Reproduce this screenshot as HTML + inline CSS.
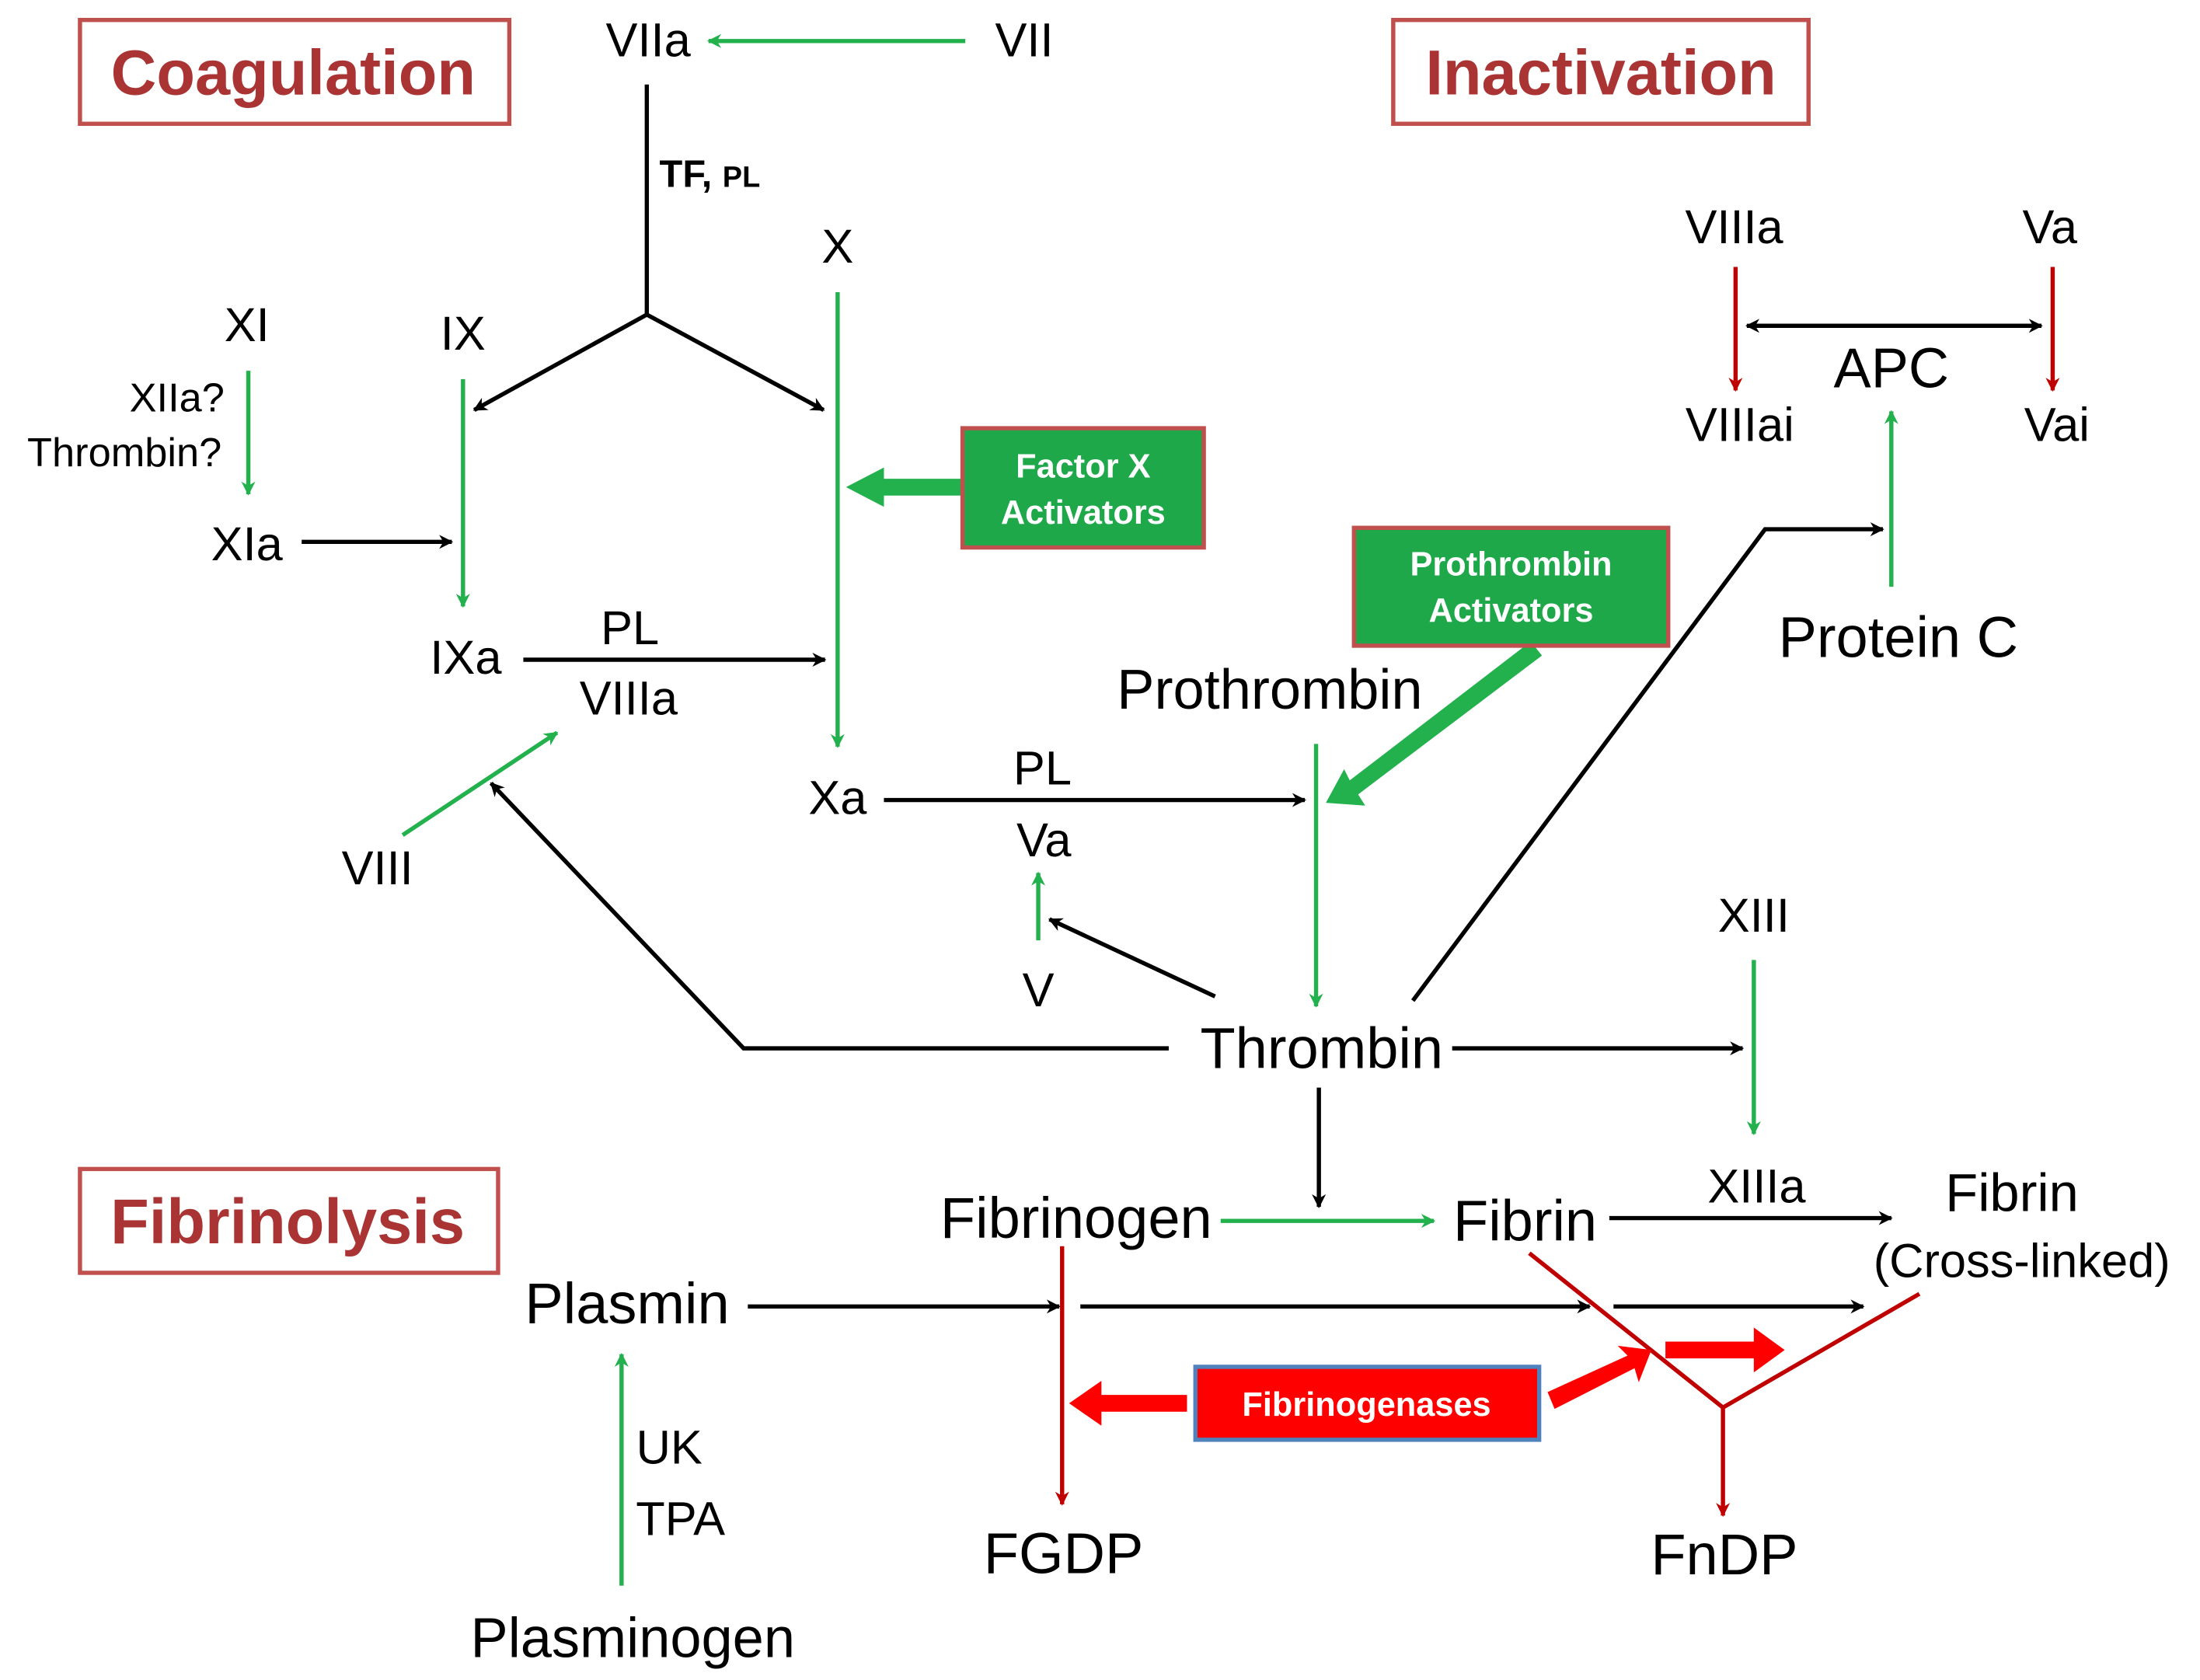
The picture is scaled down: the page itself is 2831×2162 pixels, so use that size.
<!DOCTYPE html>
<html><head><meta charset="utf-8"><style>
html,body{margin:0;padding:0;background:#fff;}
svg{display:block;}
text{font-family:"Liberation Sans",sans-serif;}
</style></head><body>
<svg width="2831" height="2162" viewBox="0 0 1568 1197" xmlns="http://www.w3.org/2000/svg">
<defs>
<marker id="ab" markerWidth="10" markerHeight="10" refX="9" refY="5" orient="auto" markerUnits="userSpaceOnUse"><path d="M0,0 L10,5 L0,10 L3,5 Z" fill="#000"/></marker>
<marker id="ag" markerWidth="10" markerHeight="10" refX="9" refY="5" orient="auto" markerUnits="userSpaceOnUse"><path d="M0,0 L10,5 L0,10 L3,5 Z" fill="#22b14c"/></marker>
<marker id="ar" markerWidth="10" markerHeight="10" refX="9" refY="5" orient="auto" markerUnits="userSpaceOnUse"><path d="M0,0 L10,5 L0,10 L3,5 Z" fill="#c00000"/></marker>
</defs>
<g fill="none" stroke-width="3">
<rect x="57" y="14" width="306" height="74" stroke="#c0504d"/>
<rect x="993" y="14" width="296" height="74" stroke="#c0504d"/>
<rect x="57" y="833" width="298" height="74" stroke="#c0504d"/>
</g>
<g font-weight="bold" fill="#a33" font-size="45" text-anchor="middle">
<text x="209" y="67">Coagulation</text>
<text x="1141" y="67">Inactivation</text>
<text x="205" y="886">Fibrinolysis</text>
</g>
<g stroke="#22b14c" stroke-width="3" fill="none" marker-end="url(#ag)">
<line x1="688" y1="29" x2="505" y2="29"/>
<line x1="177" y1="264" x2="177" y2="352"/>
<line x1="330" y1="270" x2="330" y2="432"/>
<line x1="597" y1="208" x2="597" y2="532"/>
<line x1="740" y1="670" x2="740" y2="622"/>
<line x1="287" y1="595" x2="397" y2="522"/>
<line x1="938" y1="530" x2="938" y2="717"/>
<line x1="1348" y1="418" x2="1348" y2="293"/>
<line x1="1250" y1="684" x2="1250" y2="808"/>
<line x1="870" y1="870" x2="1022" y2="870"/>
<line x1="443" y1="1130" x2="443" y2="965"/>
</g>
<g fill="#22b14c">
<polygon points="686,341 630,341 630,333 603,347 630,361 630,353 686,353"/>
<polygon points="1091,457 1099,467 968,566 973,574 945,572 958,548 962,556"/>
</g>
<g stroke="#000" stroke-width="3" fill="none">
<polyline points="461,60 461,224"/>
<line x1="461" y1="224" x2="338" y2="292" marker-end="url(#ab)"/>
<line x1="461" y1="224" x2="587" y2="292" marker-end="url(#ab)"/>
<line x1="215" y1="386" x2="322" y2="386" marker-end="url(#ab)"/>
<line x1="373" y1="470" x2="588" y2="470" marker-end="url(#ab)"/>
<line x1="630" y1="570" x2="930" y2="570" marker-end="url(#ab)"/>
<line x1="866" y1="710" x2="748" y2="655" marker-end="url(#ab)"/>
<polyline points="833,747 530,747 350,558" marker-end="url(#ab)"/>
<polyline points="1007,713 1258,377 1342,377" marker-end="url(#ab)"/>
<line x1="1035" y1="747" x2="1242" y2="747" marker-end="url(#ab)"/>
<line x1="940" y1="775" x2="940" y2="860" marker-end="url(#ab)"/>
<line x1="1147" y1="868" x2="1348" y2="868" marker-end="url(#ab)"/>
<line x1="533" y1="931" x2="755" y2="931" marker-end="url(#ab)"/>
<line x1="770" y1="931" x2="1133" y2="931" marker-end="url(#ab)"/>
<line x1="1150" y1="931" x2="1328" y2="931" marker-end="url(#ab)"/>
<line x1="1250" y1="232" x2="1455" y2="232" marker-end="url(#ab)"/>
<line x1="1455" y1="232" x2="1245" y2="232" marker-end="url(#ab)"/>
</g>
<g stroke="#c00000" stroke-width="3" fill="none">
<line x1="1237" y1="190" x2="1237" y2="278" marker-end="url(#ar)"/>
<line x1="1463" y1="190" x2="1463" y2="278" marker-end="url(#ar)"/>
<line x1="757" y1="888" x2="757" y2="1072" marker-end="url(#ar)"/>
<polyline points="1090,893 1228,1003 1368,922"/>
<line x1="1228" y1="1003" x2="1228" y2="1080" marker-end="url(#ar)"/>
</g>
<g fill="#ff0000">
<polygon points="846,994 785,994 785,984 762,1000 785,1016 785,1006 846,1006"/>
<polygon points="1103,992 1108,1004 1165,975 1168,985 1177,962 1153,959 1160,966"/>
<polygon points="1187,956 1250,956 1250,946 1272,962 1250,978 1250,968 1187,968"/>
</g>
<rect x="686" y="305" width="172" height="85" fill="#1ea84a" stroke="#c0504d" stroke-width="3"/>
<rect x="965" y="376" width="224" height="84" fill="#1ea84a" stroke="#c0504d" stroke-width="3"/>
<rect x="852" y="974" width="245" height="52" fill="#ff0000" stroke="#4f81bd" stroke-width="3"/>
<g fill="#fff" font-weight="bold" font-size="24" text-anchor="middle">
<text x="772" y="340">Factor X</text>
<text x="772" y="373">Activators</text>
<text x="1077" y="410">Prothrombin</text>
<text x="1077" y="443">Activators</text>
<text x="974" y="1009">Fibrinogenases</text>
</g>
<g fill="#000" font-size="34" text-anchor="middle">
<text x="462" y="40">VIIa</text>
<text x="730" y="40">VII</text>
<text x="597" y="187">X</text>
<text x="330" y="249">IX</text>
<text x="176" y="243">XI</text>
<text x="176" y="399">XIa</text>
<text x="332" y="480">IXa</text>
<text x="449" y="459">PL</text>
<text x="448" y="509">VIIIa</text>
<text x="597" y="580">Xa</text>
<text x="743" y="559">PL</text>
<text x="744" y="610">Va</text>
<text x="740" y="717">V</text>
<text x="269" y="630">VIII</text>
<text x="905" y="505" font-size="40">Prothrombin</text>
<text x="942" y="761" font-size="41">Thrombin</text>
<text x="1353" y="468" font-size="41">Protein C</text>
<text x="1348" y="276" font-size="40">APC</text>
<text x="1236" y="173">VIIIa</text>
<text x="1461" y="173">Va</text>
<text x="1240" y="314">VIIIai</text>
<text x="1466" y="314">Vai</text>
<text x="1250" y="664">XIII</text>
<text x="1252" y="857">XIIIa</text>
<text x="767" y="882" font-size="41">Fibrinogen</text>
<text x="1087" y="884" font-size="41">Fibrin</text>
<text x="1434" y="863" font-size="38">Fibrin</text>
<text x="1441" y="910" font-size="34">(Cross-linked)</text>
<text x="447" y="943" font-size="41">Plasmin</text>
<text x="758" y="1121" font-size="41">FGDP</text>
<text x="1229" y="1122" font-size="41">FnDP</text>
<text x="477" y="1043">UK</text>
<text x="485" y="1094">TPA</text>
<text x="451" y="1181" font-size="40">Plasminogen</text>
</g>
<g fill="#000" font-size="29" text-anchor="end">
<text x="160" y="293">XIIa?</text>
<text x="158" y="332">Thrombin?</text>
</g>
<text x="470" y="133" font-size="27" font-weight="bold">TF, <tspan font-size="21">PL</tspan></text>
</svg>
</body></html>
